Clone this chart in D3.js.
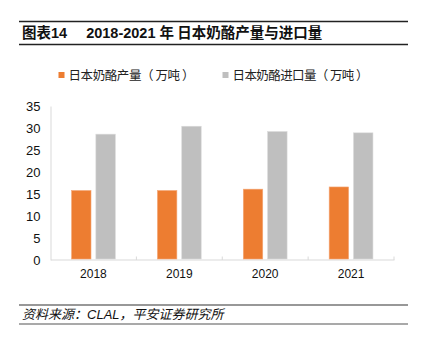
<!DOCTYPE html>
<html>
<head>
<meta charset="utf-8">
<script src="https://cdn.jsdelivr.net/npm/d3@7"></script>
<style>
    body { margin: 0; background: #fff; }
    text { font-family: "Liberation Sans", Arial, "Noto Sans CJK SC", sans-serif; }
</style>
</head>
<body>
<div class="chart"></div>
<script>
// 数据
const years = ['2018', '2019', '2020', '2021']
const production = [15.8, 15.8, 16.1, 16.6] // 日本奶酪产量（万吨）
const imports = [28.6, 30.4, 29.2, 28.9]     // 日本奶酪进口量（万吨）
const yTicks = [0, 5, 10, 15, 20, 25, 30, 35]
const seriesNames = ['日本奶酪产量（ 万吨 ）', '日本奶酪进口量（ 万吨 ）']
const colors = ['#ED7D31', '#BFBFBF']

const W = 421, H = 343
const svg = d3.select('.chart')
    .append('svg')
    .attr('width', W)
    .attr('height', H)

const cjk = '"Noto Sans CJK SC", sans-serif'

// 标题区
svg.append('line').attr('x1', 19).attr('x2', 408).attr('y1', 21.5).attr('y2', 21.5)
    .attr('stroke', '#222').attr('stroke-width', 1.5)
svg.append('line').attr('x1', 19).attr('x2', 408).attr('y1', 44.5).attr('y2', 44.5)
    .attr('stroke', '#222').attr('stroke-width', 1.5)
const title = svg.append('text')
    .attr('x', 22).attr('y', 38)
    .attr('font-size', '14.5px').attr('font-weight', 'bold').attr('fill', '#111')
title.append('tspan').style('font-family', cjk).text('图表')
title.append('tspan').text('14')
title.append('tspan').attr('dx', 19).text('2018-2021 ')
title.append('tspan').style('font-family', cjk).text('年 日本奶酪产量与进口量')

// 比例尺
const margin = { left: 50.5, right: 394, top: 106, bottom: 260 }
const x = d3.scaleBand()
    .domain(years)
    .range([margin.left, margin.right])
    .paddingInner(0)
    .paddingOuter(0)
const xSub = d3.scaleBand()
    .domain([0, 1])
    .range([x.bandwidth() * 0.245, x.bandwidth() * 0.755])
    .paddingInner(0.2)
const y = d3.scaleLinear()
    .domain([0, 35])
    .range([margin.bottom, margin.top])

// y 轴
const yAxis = svg.append('g')
    .attr('transform', `translate(${margin.left},0)`)
    .call(d3.axisLeft(y).tickValues(yTicks).tickSize(0).tickPadding(10))
yAxis.select('.domain').attr('stroke', '#D9D9D9')
yAxis.selectAll('text').attr('font-size', '13px').attr('fill', '#111')

// x 轴
const xAxis = svg.append('g')
    .attr('transform', `translate(0,${margin.bottom - 0.5})`)
    .call(d3.axisBottom(x).tickSize(0).tickPadding(10))
xAxis.select('.domain').attr('stroke', '#D9D9D9')
xAxis.selectAll('text').attr('font-size', '12px').attr('fill', '#111')
// 类目分隔刻度
svg.append('g').selectAll('line')
    .data(years)
    .enter()
    .append('line')
    .attr('x1', d => x(d) + x.bandwidth())
    .attr('x2', d => x(d) + x.bandwidth())
    .attr('y1', margin.bottom - 3.5)
    .attr('y2', margin.bottom)
    .attr('stroke', '#D9D9D9')

// 柱子
const series = [production, imports]
series.forEach((vals, s) => {
    svg.append('g').selectAll('rect')
        .data(vals)
        .enter()
        .append('rect')
        .attr('x', (d, i) => x(years[i]) + xSub(s))
        .attr('y', d => y(d))
        .attr('width', xSub.bandwidth())
        .attr('height', d => y(0) - y(d) - 1)
        .attr('fill', colors[s])
        .attr('stroke', s === 0 ? '#F4A97A' : '#DADADA')
        .attr('stroke-width', 0.6)
})

// 图例
const legendX = [58.5, 222.5]
const legendLen = [126, 136]
const legend = svg.append('g').selectAll('g')
    .data(seriesNames)
    .enter()
    .append('g')
    .attr('transform', (d, i) => `translate(${legendX[i]},75)`)
legend.append('rect')
    .attr('x', 0).attr('y', -3)
    .attr('width', 6).attr('height', 6)
    .attr('fill', (d, i) => colors[i])
legend.append('text')
    .attr('x', 10).attr('y', 4.5)
    .attr('font-size', '12.5px').attr('fill', '#222')
    .attr('textLength', (d, i) => legendLen[i])
    .attr('lengthAdjust', 'spacing')
    .style('font-family', cjk)
    .text(d => d)

// 资料来源
svg.append('line').attr('x1', 19).attr('x2', 408).attr('y1', 305).attr('y2', 305)
    .attr('stroke', '#333').attr('stroke-width', 1.2)
svg.append('line').attr('x1', 19).attr('x2', 408).attr('y1', 324).attr('y2', 324)
    .attr('stroke', '#555').attr('stroke-width', 1.2)
const src = svg.append('text')
    .attr('x', 22).attr('y', 319)
    .attr('font-size', '13px').attr('font-style', 'italic').attr('fill', '#111')
src.append('tspan').style('font-family', cjk).text('资料来源：')
src.append('tspan').text('CLAL')
src.append('tspan').style('font-family', cjk).text('，平安证券研究所')
</script>
</body>
</html>
